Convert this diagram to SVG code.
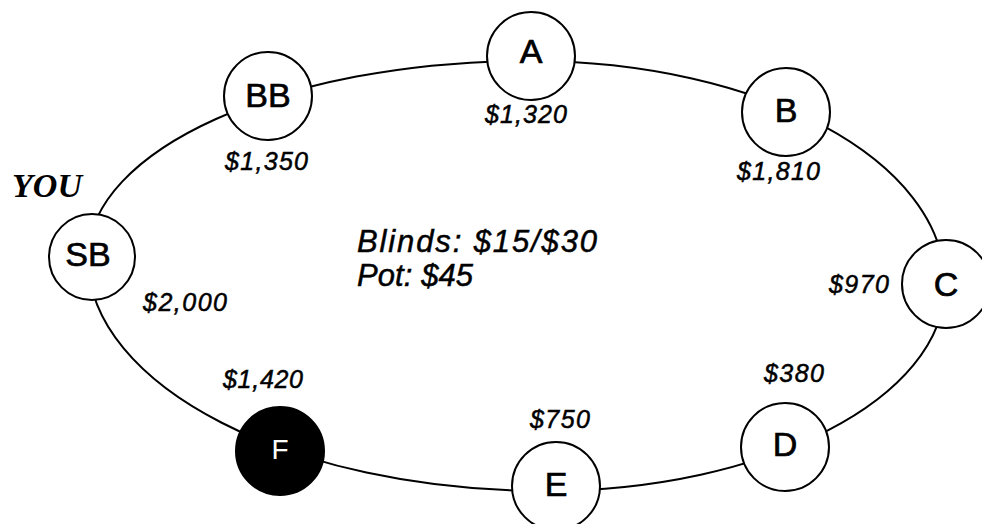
<svg xmlns="http://www.w3.org/2000/svg" width="982" height="524" viewBox="0 0 982 524">
<style>
.ring{fill:none;stroke:#000;stroke-width:2}
.seat{fill:#fff;stroke:#000;stroke-width:2}
.seat-dark{fill:#000;stroke:#000;stroke-width:2}
.lbl{font-family:"Liberation Sans",Arial,sans-serif;font-size:34px;fill:#000;stroke:#000;stroke-width:0.7;text-anchor:middle}
.lbl-w{font-family:"Liberation Sans",Arial,sans-serif;font-size:28px;fill:#fff;text-anchor:middle}
.chips{font-family:"Liberation Sans",Arial,sans-serif;font-size:25px;font-style:italic;fill:#000;stroke:#000;stroke-width:0.5}
.info{font-family:"Liberation Sans",Arial,sans-serif;font-size:31px;font-style:italic;fill:#000;stroke:#000;stroke-width:0.5}
.you{font-family:"Liberation Serif","Times New Roman",serif;font-size:33px;font-style:italic;font-weight:bold;fill:#000}
</style>
<rect width="982" height="524" fill="#fff"/>
<g id="connectors">
<path class="ring" d="M 88,258 C 88,150 282,61 530,61 C 760,61 945,160 945,285 C 945,398 766,491 545,491 C 291,491 88,386 88,258 Z"/>
</g>
<g id="node-BB"><circle class="seat" cx="268" cy="96" r="44"/><text class="lbl" x="268" y="107">BB</text></g>
<g id="node-A"><circle class="seat" cx="531" cy="56" r="44"/><text class="lbl" x="531" y="63">A</text></g>
<g id="node-B"><circle class="seat" cx="786" cy="112" r="44"/><text class="lbl" x="786" y="122">B</text></g>
<g id="node-C"><circle class="seat" cx="946" cy="284" r="44"/><text class="lbl" x="946" y="296">C</text></g>
<g id="node-D"><circle class="seat" cx="785" cy="447" r="44"/><text class="lbl" x="785" y="456">D</text></g>
<g id="node-E"><circle class="seat" cx="556" cy="486" r="44"/><text class="lbl" x="556" y="496">E</text></g>
<g id="node-F"><circle class="seat-dark" cx="280" cy="451" r="44"/><text class="lbl-w" x="280" y="459">F</text></g>
<g id="node-SB"><circle class="seat" cx="92" cy="257" r="43"/><text class="lbl" x="88" y="266">SB</text></g>
<g id="labels">
<text class="you" x="12" y="197" textLength="70" lengthAdjust="spacingAndGlyphs">YOU</text>
<text class="chips" x="225" y="170" textLength="83">$1,350</text>
<text class="chips" x="485" y="123" textLength="82">$1,320</text>
<text class="chips" x="737" y="180" textLength="83">$1,810</text>
<text class="chips" x="829" y="293" textLength="60">$970</text>
<text class="chips" x="764" y="382" textLength="60">$380</text>
<text class="chips" x="530" y="428" textLength="60">$750</text>
<text class="chips" x="223" y="388" textLength="80">$1,420</text>
<text class="chips" x="143" y="311" textLength="84">$2,000</text>
<text class="info" x="357" y="252" textLength="240">Blinds: $15/$30</text>
<text class="info" x="357" y="286" textLength="116">Pot: $45</text>
</g>
</svg>
